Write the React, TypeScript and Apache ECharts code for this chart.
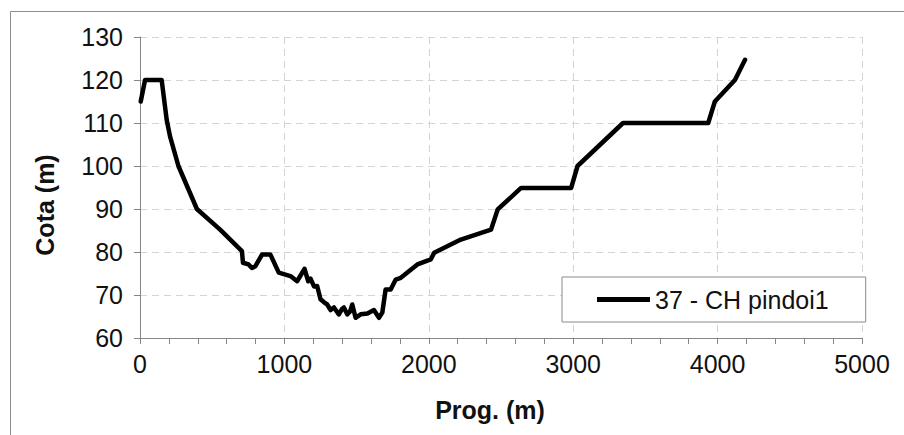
import React, { useEffect, useRef } from "react";
import * as echarts from "echarts";

const seriesName = "37 - CH pindoi1";
const progX = [5, 35, 150, 185, 208, 266, 394, 555, 706, 713, 752, 775, 799, 845, 903, 961, 1042, 1088, 1139, 1165, 1181, 1205, 1227, 1250, 1275, 1296, 1320, 1343, 1377, 1400, 1412, 1435, 1455, 1470, 1493, 1528, 1575, 1620, 1655, 1678, 1701, 1736, 1771, 1806, 1921, 2014, 2037, 2222, 2431, 2477, 2639, 2986, 3030, 3345, 3935, 3981, 4120, 4190];
const cotaY = [115, 120, 120, 110.7, 106.9, 100, 90, 85.2, 80.2, 77.5, 77.1, 76.3, 76.7, 79.4, 79.4, 75.2, 74.4, 73.2, 76.1, 73.2, 73.8, 72.0, 72.1, 69, 68.3, 67.8, 66.5, 67.1, 65.5, 66.8, 67.1, 65.5, 66.2, 67.8, 64.7, 65.5, 65.7, 66.5, 64.7, 65.9, 71.3, 71.3, 73.6, 74, 77.1, 78.3, 79.8, 82.9, 85.2, 89.9, 94.9, 94.9, 100, 110, 110, 115, 120, 124.7];
const xAxisName = "Prog. (m)";
const yAxisName = "Cota (m)";

export default function App() {
  const ref = useRef<HTMLDivElement>(null);
  useEffect(() => {
    if (!ref.current) return;
    const chart = echarts.init(ref.current, null, { renderer: "svg" });
    const font = "Liberation Sans, Arial, sans-serif";
    chart.setOption({
      animation: false,
      textStyle: { fontFamily: font },
      grid: { left: 140, top: 37, width: 722, height: 301, containLabel: false },
      xAxis: {
        type: "value",
        min: 0,
        max: 5000,
        interval: 1000,
        axisLine: { show: true, onZero: false, lineStyle: { color: "#868686", width: 1 } },
        axisTick: { show: true, length: 6, lineStyle: { color: "#868686" } },
        minorTick: { show: true, splitNumber: 5, length: 6, lineStyle: { color: "#868686" } },
        splitLine: { show: true, lineStyle: { color: "#d4d4d4", type: [7, 5], width: 1 } },
        axisLabel: { color: "#111", fontSize: 25, margin: 13, fontFamily: font, formatter: (v: number) => String(v) },
      },
      yAxis: {
        type: "value",
        min: 60,
        max: 130,
        interval: 10,
        axisLine: { show: true, onZero: false, lineStyle: { color: "#868686", width: 1 } },
        axisTick: { show: true, length: 6, lineStyle: { color: "#868686" } },
        splitLine: { show: true, lineStyle: { color: "#d4d4d4", type: [7, 5], width: 1 } },
        axisLabel: { color: "#111", fontSize: 25, margin: 17, fontFamily: font, formatter: (v: number) => String(v) },
      },
      legend: {
        show: true,
        left: 562,
        top: 277,
        orient: "horizontal",
        padding: [10, 37, 10, 35],
        itemWidth: 53,
        itemHeight: 14,
        borderColor: "#8a8a8a",
        borderWidth: 1,
        backgroundColor: "#fff",
        textStyle: { color: "#111", fontSize: 25, fontFamily: font },
        data: [{ name: seriesName, icon: "path://M0,0 L53,0 L53,5 L0,5 Z" }],
      },
      graphic: [
        {
          type: "rect",
          silent: true,
          z: -10,
          shape: { x: 10.5, y: 11.5, width: 1000, height: 1000 },
          style: { fill: "none", stroke: "#8c8c8c", lineWidth: 1 },
        },
        {
          type: "text",
          x: 490,
          y: 410,
          style: {
            text: xAxisName,
            fontFamily: font,
            fontWeight: "bold",
            fontSize: 25,
            fill: "#111",
            align: "center",
            verticalAlign: "middle",
          },
        },
        {
          type: "text",
          x: 45,
          y: 205,
          rotation: Math.PI / 2,
          style: {
            text: yAxisName,
            fontFamily: font,
            fontWeight: "bold",
            fontSize: 25,
            fill: "#111",
            align: "center",
            verticalAlign: "middle",
          },
        },
      ],
      series: [
        {
          name: seriesName,
          type: "line",
          data: progX.map((x, i) => [x, cotaY[i]]),
          showSymbol: false,
          symbol: "none",
          itemStyle: { color: "#000" },
          lineStyle: { color: "#000", width: 4.5, cap: "round", join: "round" },
        },
      ],
    });
    return () => chart.dispose();
  }, []);
  return <div ref={ref} style={{ width: 904, height: 435, position: "absolute", left: 0, top: 0 }} />;
}
